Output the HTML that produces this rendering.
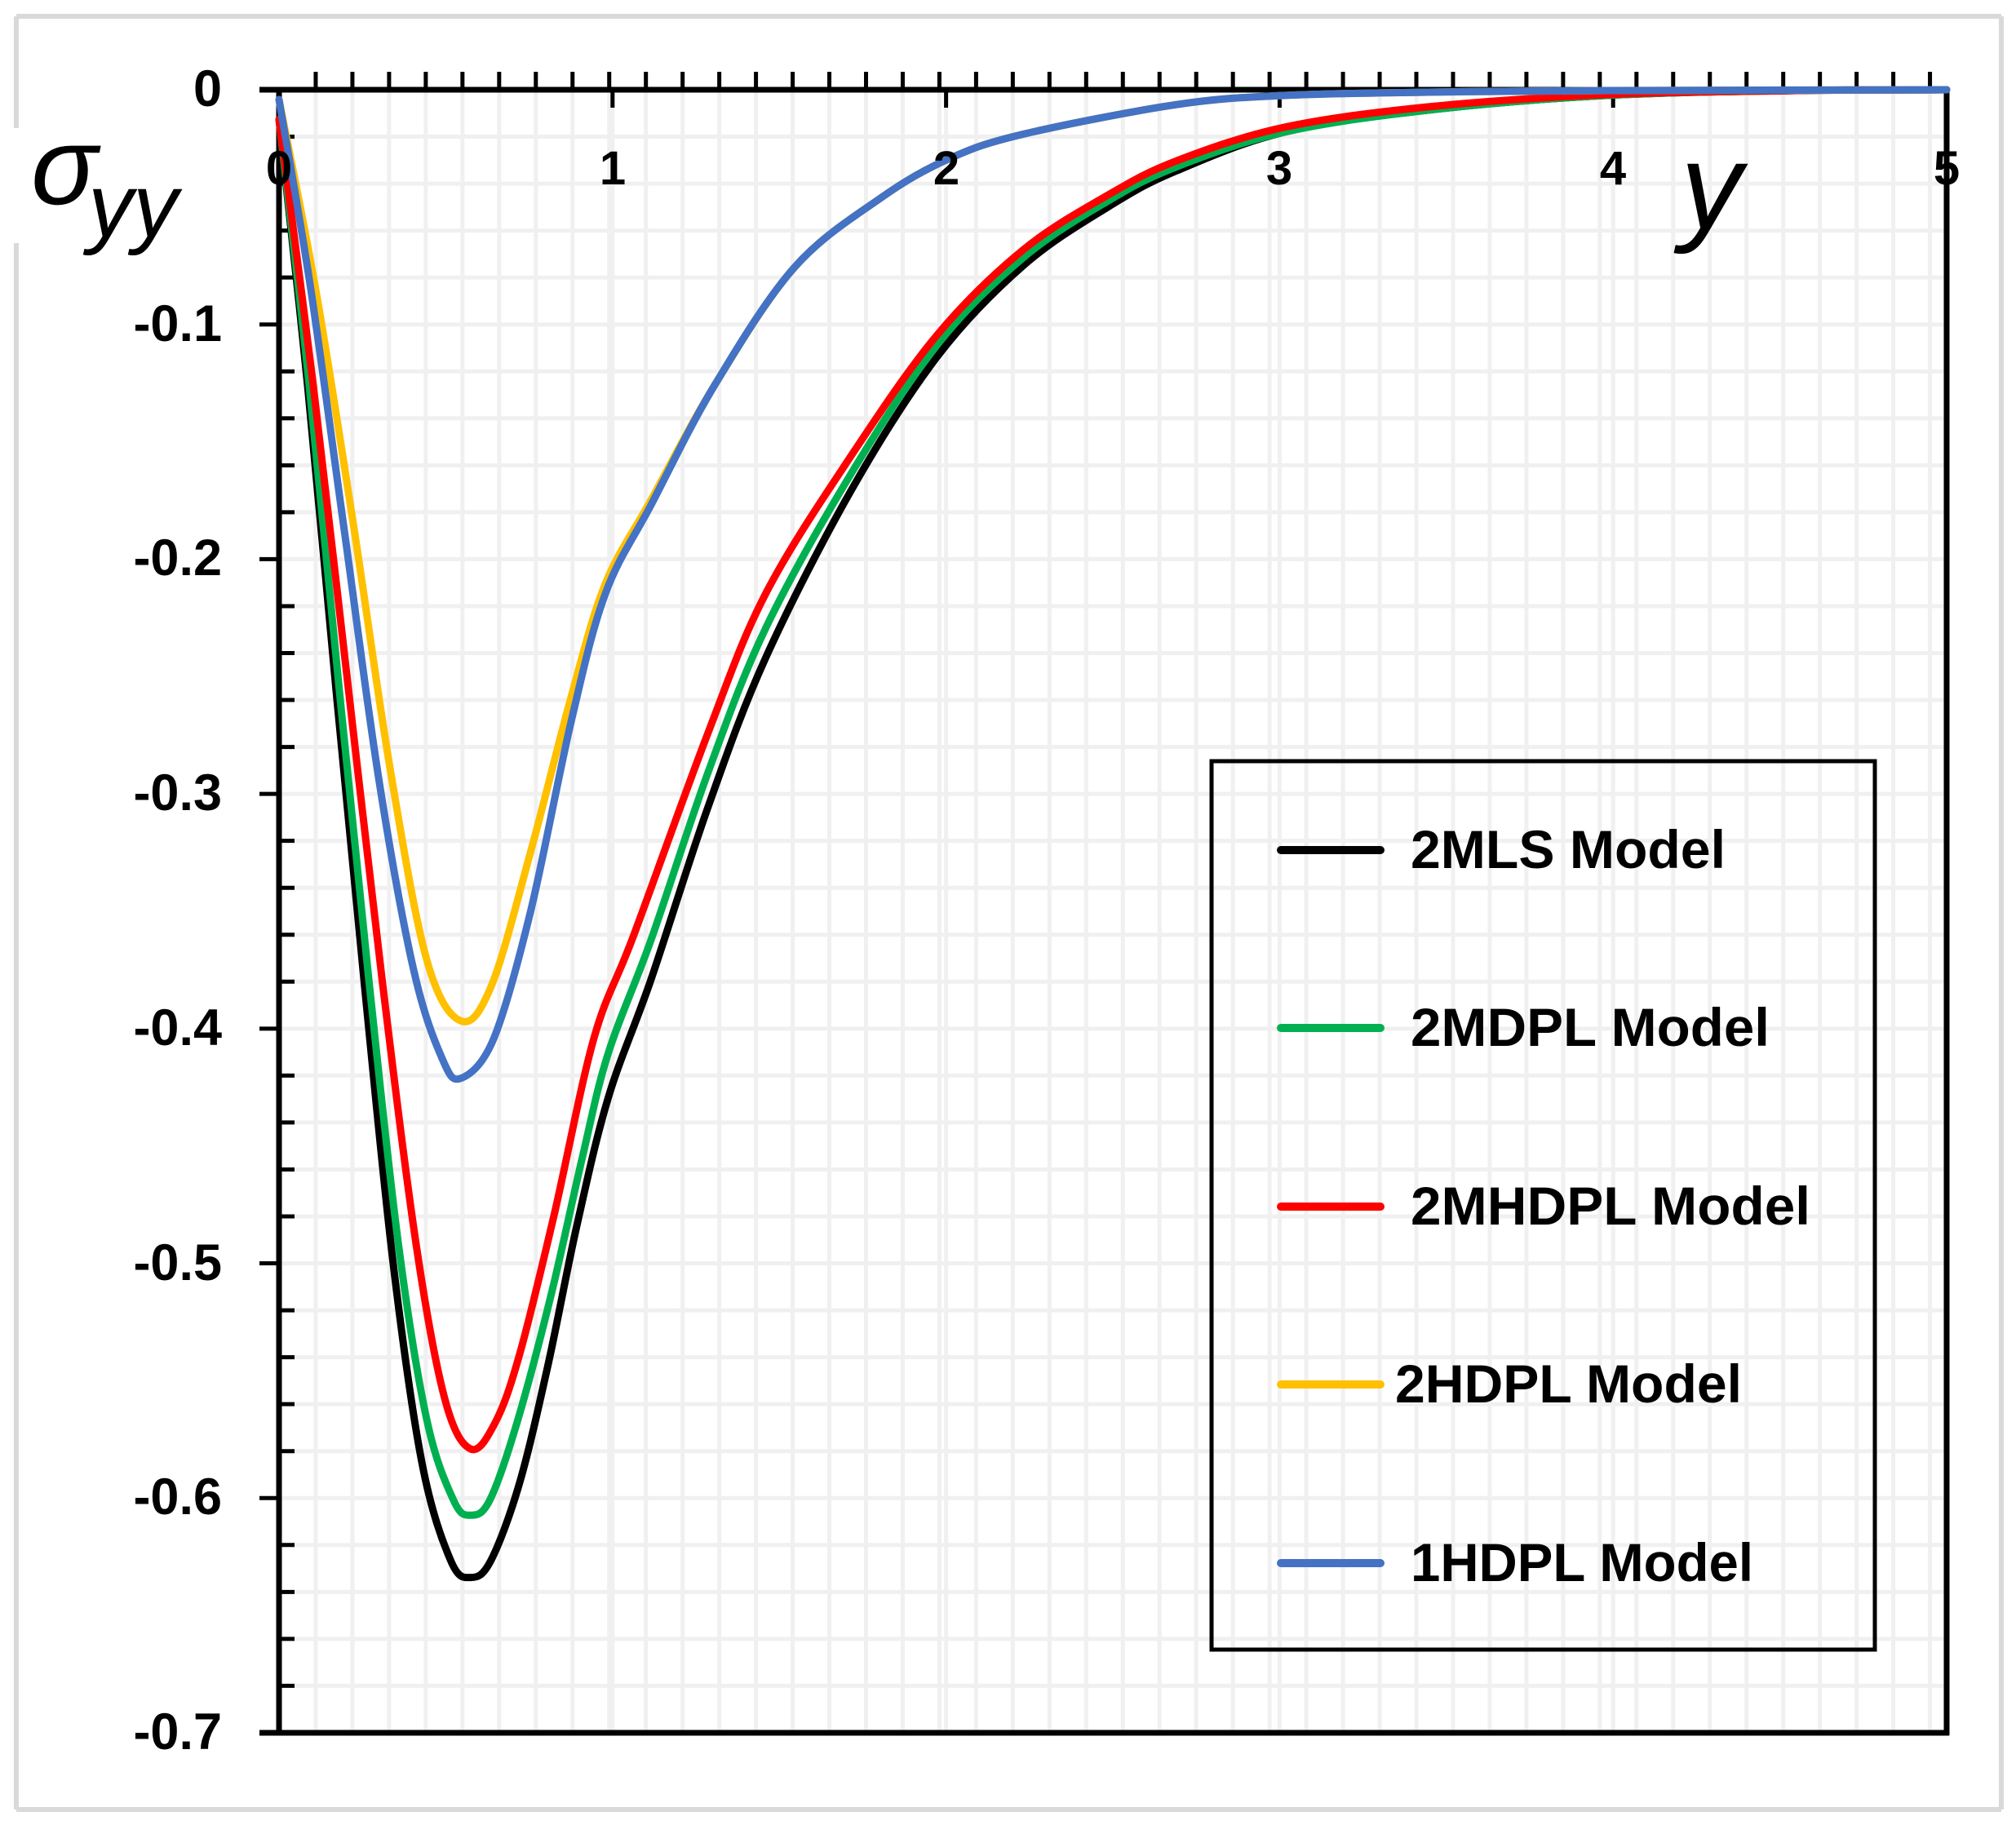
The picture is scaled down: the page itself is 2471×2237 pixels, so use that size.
<!DOCTYPE html>
<html><head><meta charset="utf-8"><style>
html,body{margin:0;padding:0;background:#fff;}
svg{display:block;}
text{font-family:"Liberation Sans",sans-serif;}
</style></head><body>
<svg id="s" width="2471" height="2237" viewBox="0 0 2471 2237" xmlns="http://www.w3.org/2000/svg">
<rect width="2471" height="2237" fill="#fff"/>
<g id="grid" stroke="#f0f0f0" stroke-width="5"></g>
<g stroke="#d9d9d9" stroke-width="6" fill="none">
<line x1="20" y1="20" x2="2453" y2="20"/>
<line x1="2453" y1="20" x2="2453" y2="2218"/>
<line x1="20" y1="2218" x2="2453" y2="2218"/>
<line x1="20" y1="20" x2="20" y2="157"/>
<line x1="20" y1="298" x2="20" y2="2218"/>
</g>
<g id="ticks" stroke="#000" stroke-width="5"></g>
<g stroke="#000" stroke-width="7" fill="none">
<line x1="318" y1="110" x2="2389" y2="110"/>
<line x1="342" y1="107" x2="342" y2="2127"/>
<line x1="318" y1="2124" x2="2389" y2="2124"/>
<line x1="2386" y1="107" x2="2386" y2="2127"/>
</g>
<g id="curves" fill="none" stroke-width="9" stroke-linejoin="round" stroke-linecap="round"></g>
<g font-weight="bold" font-size="63" text-anchor="end">
<text x="272" y="130">0</text>
<text x="272" y="418">-0.1</text>
<text x="272" y="705">-0.2</text>
<text x="272" y="993">-0.3</text>
<text x="272" y="1281">-0.4</text>
<text x="272" y="1569">-0.5</text>
<text x="272" y="1856">-0.6</text>
<text x="272" y="2144">-0.7</text>
</g>
<g font-weight="bold" font-size="58" text-anchor="middle">
<text x="342" y="226">0</text>
<text x="751" y="226">1</text>
<text x="1160" y="226">2</text>
<text x="1568" y="226">3</text>
<text x="1977" y="226">4</text>
<text x="2386" y="226">5</text>
</g>
<text x="38" y="250" font-family="Liberation Serif,serif" font-style="italic" font-size="135">σ</text>
<text x="108" y="290" font-family="Liberation Serif,serif" font-style="italic" font-size="110">yy</text>
<text x="2060" y="280" font-family="Liberation Serif,serif" font-style="italic" font-size="150">y</text>
<rect x="1485" y="933" width="813" height="1089" fill="none" stroke="#000" stroke-width="5"/>
<g stroke-width="10" stroke-linecap="round">
<line x1="1570" y1="1042" x2="1692" y2="1042" stroke="#000"/>
<line x1="1570" y1="1260" x2="1692" y2="1260" stroke="#00b050"/>
<line x1="1570" y1="1479" x2="1692" y2="1479" stroke="#ff0000"/>
<line x1="1570" y1="1697" x2="1692" y2="1697" stroke="#ffc000"/>
<line x1="1570" y1="1916" x2="1692" y2="1916" stroke="#4472c4"/>
</g>
<g font-weight="bold" font-size="66">
<text x="1729" y="1064" textLength="386" lengthAdjust="spacingAndGlyphs">2MLS Model</text>
<text x="1729" y="1282" textLength="440" lengthAdjust="spacingAndGlyphs">2MDPL Model</text>
<text x="1729" y="1501" textLength="490" lengthAdjust="spacingAndGlyphs">2MHDPL Model</text>
<text x="1710" y="1719" textLength="425" lengthAdjust="spacingAndGlyphs">2HDPL Model</text>
<text x="1729" y="1938" textLength="420" lengthAdjust="spacingAndGlyphs">1HDPL Model</text>
</g>
</svg>
<script>
var NS="http://www.w3.org/2000/svg";
function L(g,x1,y1,x2,y2){var l=document.createElementNS(NS,"line");l.setAttribute("x1",x1);l.setAttribute("y1",y1);l.setAttribute("x2",x2);l.setAttribute("y2",y2);g.appendChild(l);}
var g=document.getElementById("grid"),t=document.getElementById("ticks");
var X0=342,PX=408.8,Y0=110,PY=2877.1;
for(var k=1;k*0.11<5;k++){var x=X0+k*0.11*PX;L(g,x,110,x,2124);L(t,x,88,x,110);}
for(var i=1;i<=5;i++){var x=X0+i*PX;L(g,x,110,x,2124);L(t,x,110,x,132);}
for(var j=1;j<35;j++){var y=Y0+j*0.02*PY;L(g,342,y,2386,y);if(j%5)L(t,342,y,361,y);else L(t,318,y,342,y);}
function Z(p){return p.map(function(a){return [342+a[0]/1.4255,110+a[1]/0.8253];});}
var tailB=[[1574,162],[1750,135],[1968,117],[2200,111],[2386,110]];
var tailR=[[1574,156],[1750,131],[1968,116],[2200,111],[2386,110]];
var tailBl=[[1574,117],[1750,113],[1968,111],[2386,110]];
var S={
"#000":Z([[0,30],[50,300],[100,610],[150,910],[200,1190],[250,1390],[300,1488],[335,1505],[370,1488],[420,1410],[470,1290],[520,1150],[575,1020],[650,900],[750,725],[850,575],[1000,405],[1150,270],[1300,178],[1450,118],[1568,82]]).concat(tailB),
"#00b050":Z([[0,30],[52,295],[104,600],[156,895],[208,1165],[258,1345],[305,1427],[335,1442],[368,1427],[415,1350],[475,1220],[530,1080],[575,975],[650,860],[750,690],[850,545],[1000,388],[1150,258],[1300,170],[1450,112],[1568,78]]).concat(tailB),
"#ff0000":Z([[0,30],[60,300],[120,600],[180,900],[240,1170],[290,1325],[335,1375],[378,1348],[420,1280],[480,1140],[550,960],[620,855],[750,650],[850,510],[1000,370],[1150,248],[1300,162],[1450,106],[1568,72]]).concat(tailR),
"#ffc000":Z([[0,10],[65,205],[130,440],[195,690],[258,880],[318,942],[372,905],[440,770],[510,615],[570,500],[650,415],[760,300],[900,180],[1050,110],[1170,70],[1300,45],[1568,15]]).concat(tailBl),
"#4472c4":Z([[0,10],[55,200],[115,450],[175,700],[235,890],[285,980],[318,1000],[375,960],[440,830],[510,640],[570,510],[650,420],[760,300],[900,180],[1050,110],[1170,70],[1300,45],[1568,15]]).concat(tailBl)
};
function cr(p){var d="M"+p[0][0].toFixed(1)+" "+p[0][1].toFixed(1);
for(var i=0;i<p.length-1;i++){var p0=p[Math.max(0,i-1)],p1=p[i],p2=p[i+1],p3=p[Math.min(p.length-1,i+2)];
d+=" C"+(p1[0]+(p2[0]-p0[0])/6).toFixed(1)+" "+(p1[1]+(p2[1]-p0[1])/6).toFixed(1)+" "+(p2[0]-(p3[0]-p1[0])/6).toFixed(1)+" "+(p2[1]-(p3[1]-p1[1])/6).toFixed(1)+" "+p2[0].toFixed(1)+" "+p2[1].toFixed(1);}
return d;}
var c=document.getElementById("curves");
["#000","#00b050","#ff0000","#ffc000","#4472c4"].forEach(function(col){var p=document.createElementNS(NS,"path");p.setAttribute("d",cr(S[col]));p.setAttribute("stroke",col);c.appendChild(p);});
</script>
</body></html>
